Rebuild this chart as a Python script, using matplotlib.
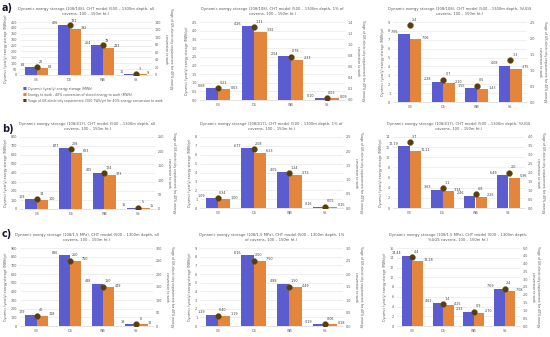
import numpy as np
import matplotlib
matplotlib.use("Agg")
import matplotlib.pyplot as plt
from matplotlib.ticker import FormatStrFormatter

plt.rcParams['font.family'] = ['DejaVu Sans']

categories = ["CB", "DS", "WB", "SS"]

# panel data: stored energy, energy to work, % of UK requirement
storage = {
    "a1": [68, 426, 254, 10], "a2": [0.68, 4.26, 2.54, 0.10], "a3": [7.65, 2.28, 1.55, 4.08],
    "b1": [109, 677, 405, 16], "b2": [1.09, 6.77, 4.05, 0.16], "b3": [12.19, 3.63, 2.46, 6.49],
    "c1": [129, 816, 488, 19], "c2": [1.29, 8.16, 4.88, 0.19], "c3": [14.44, 4.62, 2.93, 7.69],
}
to_work = {
    "a1": [63, 392, 233, 9], "a2": [0.63, 3.92, 2.33, 0.09], "a3": [7.06, 2.10, 1.43, 3.75],
    "b1": [100, 623, 373, 15], "b2": [1.00, 6.23, 3.73, 0.15], "b3": [11.21, 3.34, 2.26, 5.96],
    "c1": [118, 750, 449, 18], "c2": [1.19, 7.50, 4.49, 0.18], "c3": [13.28, 4.25, 2.70, 7.08],
}
uk_pct = {
    "a1": [22, 131, 78, 3], "a2": [0.21, 1.31, 0.78, 0.03], "a3": [2.4, 0.7, 0.5, 1.3],
    "b1": [34, 208, 124, 5], "b2": [0.34, 2.08, 1.24, 0.05], "b3": [3.7, 1.1, 0.8, 2.0],
    "c1": [40, 250, 150, 6], "c2": [0.40, 2.50, 1.50, 0.06], "c3": [4.4, 1.4, 0.9, 2.4],
}
titles = {
    "a1": "Dynamic exergy storage (108/108), CHT model (500 \u2013 1300m depth, all\ncaverns, 100 \u2013 150m ht.)",
    "a2": "Dynamic exergy storage (108/108), CHT model (500 \u2013 1300m depth, 1% of\ncaverns, 100 \u2013 150m ht.)",
    "a3": "Dynamic exergy storage (108/108), CHT model (500 \u2013 1300m depth, %UGS\ncaverns, 100 \u2013 150m ht.)",
    "b1": "Dynamic exergy storage (108/417), CHT model (500 \u2013 1300m depth, all\ncaverns, 100 \u2013 150m ht.)",
    "b2": "Dynamic exergy storage (108/417), CHT model (500 \u2013 1300m depth, 1% of\ncaverns, 100 \u2013 150m ht.)",
    "b3": "Dynamic exergy storage (108/417), CHT model (500 \u2013 1300m depth, %UGS\ncaverns, 100 \u2013 150m ht.)",
    "c1": "Dynamic exergy storage (108/1.5 MPa), CHT model (500 \u2013 1300m depth, all\ncaverns, 100 \u2013 150m ht.)",
    "c2": "Dynamic exergy storage (108/1.5 MPa), CHT model (500 \u2013 1300m depth, 1%\nof caverns, 100 \u2013 150m ht.)",
    "c3": "Dynamic exergy storage (108/1.5 MPa), CHT model (500 \u2013 1300m depth,\n%UGS caverns, 100 \u2013 150m ht.)",
}

# axis limits / tick steps (left, right)
left_lim = {"a1": (450, 50), "a2": (4.5, 0.5), "a3": (9, 1),
            "b1": (800, 100), "b2": (8, 1), "b3": (14, 2),
            "c1": (900, 100), "c2": (9, 1), "c3": (16, 2)}
right_lim = {"a1": (140, 20), "a2": (1.4, 0.2), "a3": (2.5, 0.5),
             "b1": (250, 50), "b2": (2.5, 0.5), "b3": (4.0, 0.5),
             "c1": (300, 50), "c2": (3.0, 0.5), "c3": (5.0, 0.5)}

# axes boxes in pixels: x0, x1, top, baseline
boxes = {"a1": (20, 152, 22, 75), "a2": (200, 345, 22, 100), "a3": (393, 527, 22, 102),
         "b1": (20, 155, 137, 209), "b2": (200, 343, 137, 208), "b3": (393, 525, 137, 208),
         "c1": (20, 153, 248, 326), "c2": (200, 343, 248, 326), "c3": (397, 520, 248, 326)}

W, H = 550, 337
BLUE = "#5a5cd0"
ORANGE = "#e3853a"
DOT = "#5a3b12"
GRID = "#e4e4e4"
TXT = "#595959"
fs = 2.4

fig = plt.figure(figsize=(5.5, 3.37), dpi=100)

for key, (x0, x1, top, base) in boxes.items():
    col = key[1]
    ax = fig.add_axes([x0 / W, 1 - base / H, (x1 - x0) / W, (base - top) / H])
    x = np.arange(len(categories))
    w = 0.34
    s, t, p = storage[key], to_work[key], uk_pct[key]
    ax.bar(x - w / 2, s, w, color=BLUE, zorder=2)
    ax.bar(x + w / 2, t, w, color=ORANGE, zorder=2)

    lmax, lstep = left_lim[key]
    rmax, rstep = right_lim[key]
    ax.set_ylim(0, lmax)
    ax.set_yticks(np.arange(0, lmax + lstep / 2, lstep))
    ax.set_xlim(-0.5, 3.5)
    ax.set_xticks(x)
    ax.set_xticklabels(categories)
    ax.grid(axis='y', color=GRID, lw=0.4, zorder=0)
    for sp in ["top", "left", "right"]:
        ax.spines[sp].set_visible(False)
    ax.spines["bottom"].set_color("#cfcfcf")
    ax.spines["bottom"].set_linewidth(0.4)
    ax.tick_params(length=0, labelsize=fs, colors=TXT, pad=2)

    ax2 = ax.twinx()
    ax2.set_ylim(0, rmax)
    ax2.set_yticks(np.arange(0, rmax + rstep / 2, rstep))
    ax2.scatter(x, p, s=18, color=DOT, edgecolor="#7a6a1a", linewidth=0.3, zorder=5)
    for sp in ax2.spines.values():
        sp.set_visible(False)
    ax2.tick_params(length=0, labelsize=fs, colors=TXT, pad=2)

    if col == "1":
        bfmt, dfmt = "{:.0f}", "{:.0f}"
        ax2.yaxis.set_major_formatter(FormatStrFormatter("%d"))
    elif col == "2":
        bfmt, dfmt = "{:.2f}", "{:.2f}"
        ax2.yaxis.set_major_formatter(FormatStrFormatter("%.1f"))
        if key == "a2":
            ax.yaxis.set_major_formatter(FormatStrFormatter("%.1f"))
    else:
        bfmt, dfmt = "{:.2f}", "{:.1f}"
        ax2.yaxis.set_major_formatter(FormatStrFormatter("%.1f"))

    for i in range(len(categories)):
        ax.text(x[i] - w - 0.01, s[i] + lmax * 0.03, bfmt.format(s[i]), ha="right", va="center",
                fontsize=fs, color="#404040", zorder=6)
        ax.text(x[i] + w + 0.01, t[i] + lmax * 0.02, bfmt.format(t[i]), ha="left", va="center",
                fontsize=fs, color="#404040", zorder=6)
        ax2.text(x[i] + 0.14, p[i] + rmax * 0.045, dfmt.format(p[i]), ha="center", va="bottom",
                 fontsize=fs, color="#404040", zorder=6)

    ax.set_title(titles[key], fontsize=2.7, color=TXT, pad=5, linespacing=1.5)
    ax.set_ylabel("Dynamic (yearly) exergy storage (MWh/yr)", fontsize=2.3, color=TXT, labelpad=2)
    ax2.set_ylabel("%age of UK electricity requirement for 40% energy\nconversion to work",
                   fontsize=2.3, color=TXT, rotation=270, va="bottom", labelpad=2)

# legend under first panel
legend_items = [
    (BLUE, "Dynamic (yearly) energy storage (MWh)"),
    (ORANGE, "Energy to work - 40% conversion of stored energy to work (MWh)"),
    (DOT, "%age of UK electricity requirement (300 TWh/yr) for 40% energy conversion to work"),
]
for i, (c, lab) in enumerate(legend_items):
    yy = 1 - (89 + i * 6) / H
    fig.text(23 / W, yy, "\u25a0", fontsize=3, color=c, va="center")
    fig.text(28 / W, yy, lab, fontsize=2.3, color=TXT, va="center")

for lab, yp in [("a)", 8), ("b)", 129), ("c)", 234)]:
    fig.text(2 / W, 1 - yp / H, lab, fontsize=7, fontweight="bold", color="#1a1a2e", va="center")

fig.savefig("out.png", dpi=100)
